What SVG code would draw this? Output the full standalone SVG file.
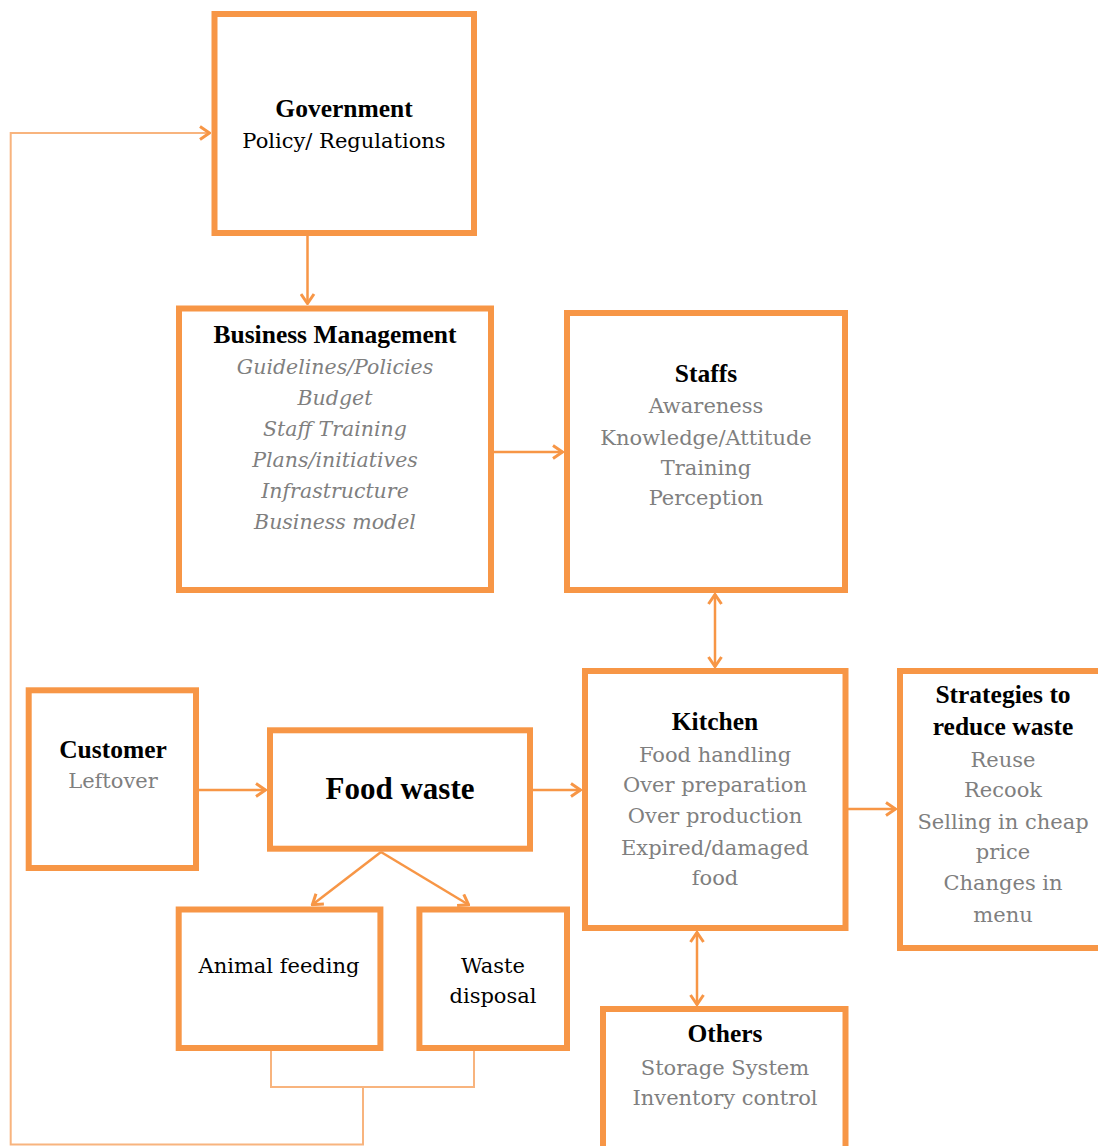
<svg xmlns="http://www.w3.org/2000/svg" width="1098" height="1146" viewBox="0 0 1098 1146">
<style>
.box{fill:#fff;stroke:#F79646;stroke-width:6}
.b{font-family:"Liberation Serif",serif;font-weight:bold;font-size:25.5px;fill:#000;text-anchor:middle}
.k{font-family:"DejaVu Serif",serif;font-size:21px;fill:#000;text-anchor:middle}
.r{font-family:"DejaVu Serif",serif;font-size:21px;fill:#7f7f7f;text-anchor:middle}
.i{font-family:"DejaVu Serif",serif;font-style:italic;font-size:20.5px;fill:#7f7f7f;text-anchor:middle}
.c{fill:none;stroke:#F79646;stroke-width:2.5}
.l{fill:none;stroke:#F8B47E;stroke-width:2}
</style>
<defs>
<marker id="ah" markerUnits="userSpaceOnUse" viewBox="0 0 12 16" markerWidth="12" markerHeight="16" refX="11" refY="8" orient="auto-start-reverse">
<path d="M1,1.5 L10.5,8 L1,14.5" fill="none" stroke="#F79646" stroke-width="3"/>
</marker>
</defs>
<rect width="1098" height="1146" fill="#fff"/>
<g id="connectors">
<path class="c" d="M307.5,236 V304" marker-end="url(#ah)"/>
<path class="c" d="M494,452 H563" marker-end="url(#ah)"/>
<path class="c" d="M715,594 V667" marker-start="url(#ah)" marker-end="url(#ah)"/>
<path class="c" d="M199,790 H266" marker-end="url(#ah)"/>
<path class="c" d="M533,790 H581" marker-end="url(#ah)"/>
<path class="c" d="M848,809 H896" marker-end="url(#ah)"/>
<path class="c" d="M697,932 V1005" marker-start="url(#ah)" marker-end="url(#ah)"/>
<path class="c" d="M381,852 L312,905" marker-end="url(#ah)"/>
<path class="c" d="M381,852 L469,905" marker-end="url(#ah)"/>
<path class="l" d="M271,1051 V1087 H474 V1051"/>
<path class="l" d="M363,1087 V1144.5 H10.7 V133 H210" marker-end="url(#ah)"/>
</g>
<g id="government">
<rect class="box" x="214.5" y="14" width="259.5" height="219"/>
<text class="b" x="344" y="117">Government</text>
<text class="k" x="344" y="148">Policy/ Regulations</text>
</g>
<g id="business-management">
<rect class="box" x="179" y="308.5" width="312" height="281.5"/>
<text class="b" x="335" y="343">Business Management</text>
<text class="i" x="335" y="374">Guidelines/Policies</text>
<text class="i" x="335" y="405">Budget</text>
<text class="i" x="335" y="436">Staff Training</text>
<text class="i" x="335" y="467">Plans/initiatives</text>
<text class="i" x="335" y="498">Infrastructure</text>
<text class="i" x="335" y="529">Business model</text>
</g>
<g id="staffs">
<rect class="box" x="567" y="313" width="278" height="277"/>
<text class="b" x="706" y="382">Staffs</text>
<text class="r" x="706" y="413">Awareness</text>
<text class="r" x="706" y="445">Knowledge/Attitude</text>
<text class="r" x="706" y="475">Training</text>
<text class="r" x="706" y="505">Perception</text>
</g>
<g id="customer">
<rect class="box" x="28.7" y="690.3" width="167.3" height="177.7"/>
<text class="b" x="113" y="758">Customer</text>
<text class="r" x="113" y="788">Leftover</text>
</g>
<g id="food-waste">
<rect class="box" x="270" y="730.3" width="260" height="118.4"/>
<text class="b" x="400" y="799" style="font-size:31px">Food waste</text>
</g>
<g id="kitchen">
<rect class="box" x="585" y="671" width="260.5" height="257"/>
<text class="b" x="715" y="730">Kitchen</text>
<text class="r" x="715" y="762">Food handling</text>
<text class="r" x="715" y="792">Over preparation</text>
<text class="r" x="715" y="823">Over production</text>
<text class="r" x="715" y="855">Expired/damaged</text>
<text class="r" x="715" y="885">food</text>
</g>
<g id="strategies">
<rect class="box" x="900" y="671" width="220" height="277"/>
<text class="b" x="1003" y="703">Strategies to</text>
<text class="b" x="1003" y="735">reduce waste</text>
<text class="r" x="1003" y="767">Reuse</text>
<text class="r" x="1003" y="797">Recook</text>
<text class="r" x="1003" y="829">Selling in cheap</text>
<text class="r" x="1003" y="859">price</text>
<text class="r" x="1003" y="890">Changes in</text>
<text class="r" x="1003" y="922">menu</text>
</g>
<g id="animal-feeding">
<rect class="box" x="178.7" y="909.5" width="201.7" height="138.5"/>
<text class="k" x="279" y="973">Animal feeding</text>
</g>
<g id="waste-disposal">
<rect class="box" x="419.4" y="909.5" width="147.6" height="138.5"/>
<text class="k" x="493" y="973">Waste</text>
<text class="k" x="493" y="1003">disposal</text>
</g>
<g id="others">
<rect class="box" x="603" y="1009" width="242.5" height="160"/>
<text class="b" x="725" y="1042">Others</text>
<text class="r" x="725" y="1075">Storage System</text>
<text class="r" x="725" y="1105">Inventory control</text>
</g>
</svg>
